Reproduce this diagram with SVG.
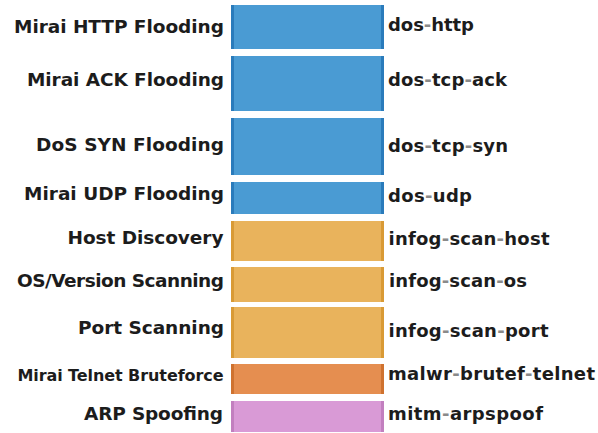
<svg xmlns="http://www.w3.org/2000/svg" width="598" height="433" viewBox="0 0 598 433">
  <style>
    .bar { stroke: none; }
    .edge { stroke: none; }
    .lbl { font-family: "DejaVu Sans", Verdana, sans-serif; font-weight: bold; fill: #1c1c1c; }
    .left { text-anchor: end; font-size: 18.5px; }
    .left.small { font-size: 16px; }
    .right { text-anchor: start; font-size: 18px; }
    .dash { fill: #8a8a8a; }
    .blue .bar { fill: #4a9bd3; }
    .blue .edge { fill: #2a7bbb; }
    .orange .bar { fill: #e9b35c; }
    .orange .edge { fill: #d99a35; }
    .dorange .bar { fill: #e58e50; }
    .dorange .edge { fill: #cf722f; }
    .pink .bar { fill: #d99ad6; }
    .pink .edge { fill: #c27fbf; }
  </style>
  <rect x="0" y="0" width="598" height="433" fill="#ffffff"/>

  <g id="dos-http" class="blue">
    <rect class="bar" x="231" y="5" width="153" height="44"/>
    <rect class="edge" x="231" y="5" width="3" height="44"/>
    <rect class="edge" x="381" y="5" width="3" height="44"/>
    <text class="lbl left" x="224" y="33" textLength="210" lengthAdjust="spacing">Mirai HTTP Flooding</text>
    <text class="lbl right" x="388" y="31" textLength="86" lengthAdjust="spacing">dos<tspan class="dash">-</tspan>http</text>
  </g>

  <g id="dos-tcp-ack" class="blue">
    <rect class="bar" x="231" y="56" width="153" height="55"/>
    <rect class="edge" x="231" y="56" width="3" height="55"/>
    <rect class="edge" x="381" y="56" width="3" height="55"/>
    <text class="lbl left" x="224" y="86" textLength="197" lengthAdjust="spacing">Mirai ACK Flooding</text>
    <text class="lbl right" x="388" y="86" textLength="119" lengthAdjust="spacing">dos<tspan class="dash">-</tspan>tcp<tspan class="dash">-</tspan>ack</text>
  </g>

  <g id="dos-tcp-syn" class="blue">
    <rect class="bar" x="231" y="118" width="153" height="57"/>
    <rect class="edge" x="231" y="118" width="3" height="57"/>
    <rect class="edge" x="381" y="118" width="3" height="57"/>
    <text class="lbl left" x="224" y="151" textLength="188" lengthAdjust="spacing">DoS SYN Flooding</text>
    <text class="lbl right" x="388" y="152" textLength="120" lengthAdjust="spacing">dos<tspan class="dash">-</tspan>tcp<tspan class="dash">-</tspan>syn</text>
  </g>

  <g id="dos-udp" class="blue">
    <rect class="bar" x="231" y="182" width="153" height="32"/>
    <rect class="edge" x="231" y="182" width="3" height="32"/>
    <rect class="edge" x="381" y="182" width="3" height="32"/>
    <text class="lbl left" x="224" y="200" textLength="200" lengthAdjust="spacing">Mirai UDP Flooding</text>
    <text class="lbl right" x="388" y="201.5" textLength="84" lengthAdjust="spacing">dos<tspan class="dash">-</tspan>udp</text>
  </g>

  <g id="infog-scan-host" class="orange">
    <rect class="bar" x="231" y="221" width="153" height="40"/>
    <rect class="edge" x="231" y="221" width="3" height="40"/>
    <rect class="edge" x="381" y="221" width="3" height="40"/>
    <text class="lbl left" x="223.5" y="244" textLength="156" lengthAdjust="spacing">Host Discovery</text>
    <text class="lbl right" x="388.5" y="244.5" textLength="161" lengthAdjust="spacing">infog<tspan class="dash">-</tspan>scan<tspan class="dash">-</tspan>host</text>
  </g>

  <g id="infog-scan-os" class="orange">
    <rect class="bar" x="231" y="267" width="153" height="35"/>
    <rect class="edge" x="231" y="267" width="3" height="35"/>
    <rect class="edge" x="381" y="267" width="3" height="35"/>
    <text class="lbl left" x="224" y="287" textLength="207" lengthAdjust="spacing">OS/Version Scanning</text>
    <text class="lbl right" x="389" y="287" textLength="138" lengthAdjust="spacing">infog<tspan class="dash">-</tspan>scan<tspan class="dash">-</tspan>os</text>
  </g>

  <g id="infog-scan-port" class="orange">
    <rect class="bar" x="231" y="307" width="153" height="51"/>
    <rect class="edge" x="231" y="307" width="3" height="51"/>
    <rect class="edge" x="381" y="307" width="3" height="51"/>
    <text class="lbl left" x="224" y="333.5" textLength="146" lengthAdjust="spacing">Port Scanning</text>
    <text class="lbl right" x="388.5" y="337" textLength="160" lengthAdjust="spacing">infog<tspan class="dash">-</tspan>scan<tspan class="dash">-</tspan>port</text>
  </g>

  <g id="malwr-brutef-telnet" class="dorange">
    <rect class="bar" x="231" y="364" width="153" height="30"/>
    <rect class="edge" x="231" y="364" width="3" height="30"/>
    <rect class="edge" x="381" y="364" width="3" height="30"/>
    <text class="lbl left small" x="223.5" y="381" textLength="206" lengthAdjust="spacing">Mirai Telnet Bruteforce</text>
    <text class="lbl right" x="388" y="380" textLength="207" lengthAdjust="spacing">malwr<tspan class="dash">-</tspan>brutef<tspan class="dash">-</tspan>telnet</text>
  </g>

  <g id="mitm-arpspoof" class="pink">
    <rect class="bar" x="231" y="401" width="153" height="31"/>
    <rect class="edge" x="231" y="401" width="3" height="31"/>
    <rect class="edge" x="381" y="401" width="3" height="31"/>
    <text class="lbl left" x="223" y="420" textLength="139" lengthAdjust="spacing">ARP Spoofing</text>
    <text class="lbl right" x="388" y="419.5" textLength="155" lengthAdjust="spacing">mitm<tspan class="dash">-</tspan>arpspoof</text>
  </g>

  <g id="connectors"/>
</svg>
